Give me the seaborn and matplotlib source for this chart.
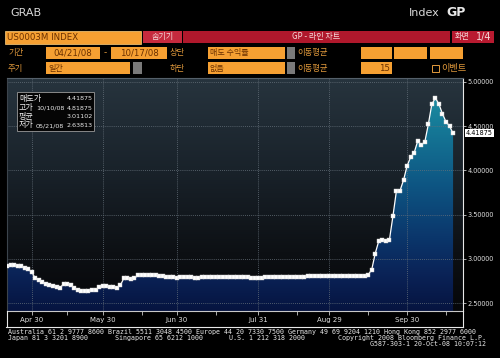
import numpy as np
import pandas as pd
import matplotlib
matplotlib.use("Agg")
import matplotlib.pyplot as plt
import seaborn as sns
from matplotlib.colors import LinearSegmentedColormap
from matplotlib.patches import Rectangle
from matplotlib.lines import Line2D

# ---------------- data ----------------
start_date = "2008-04-21"
end_date = "2008-10-17"
london_holidays = ["2008-05-05", "2008-05-26", "2008-08-25"]

libor_3m = [
    2.92, 2.925, 2.925, 2.92, 2.915,
    2.90, 2.88, 2.85, 2.78, 2.76,
    2.74, 2.72, 2.70, 2.69, 2.68,
    2.67, 2.72, 2.72, 2.70, 2.67,
    2.65, 2.63813, 2.64, 2.64, 2.645,
    2.65, 2.68, 2.69, 2.69, 2.68,
    2.68, 2.67, 2.70, 2.78, 2.78,
    2.77, 2.78,
    2.815, 2.82, 2.82, 2.815, 2.815, 2.82, 2.81, 2.81, 2.80, 2.79, 2.79, 2.785, 2.79,
    2.79, 2.79, 2.79, 2.785, 2.785, 2.79, 2.79, 2.79, 2.79, 2.795,
    2.79, 2.79, 2.79, 2.79, 2.795, 2.795, 2.795, 2.79, 2.79, 2.785,
    2.78, 2.78, 2.785,
    2.795, 2.80, 2.80, 2.80, 2.80, 2.80, 2.80, 2.80, 2.80, 2.80,
    2.80, 2.80, 2.805, 2.805, 2.805, 2.805, 2.805, 2.81, 2.81, 2.81,
    2.81, 2.81, 2.81, 2.81, 2.81, 2.81, 2.81, 2.81, 2.81,
    2.82,
    2.875, 3.06, 3.20, 3.21, 3.20, 3.21, 3.48, 3.77, 3.77, 3.89,
    4.05, 4.15, 4.20, 4.33, 4.29, 4.32, 4.52, 4.75, 4.81875, 4.75,
    4.64, 4.55, 4.50, 4.41875,
]

major_tick_dates = ["2008-04-30", "2008-05-30", "2008-06-30", "2008-07-31", "2008-08-29", "2008-09-30"]
major_tick_labels = ["Apr 30", "May 30", "Jun 30", "Jul 31", "Aug 29", "Sep 30"]
minor_tick_dates = ["2008-05-15", "2008-06-16", "2008-07-15", "2008-08-15", "2008-09-15", "2008-10-15"]
y_ticks = [2.5, 3.0, 3.5, 4.0, 4.5, 5.0]
last_value = "4.41875"

summary_labels = ["매도가", "고가", "평균", "저가"]
summary_dates = ["", "10/10/08", "", "05/21/08"]
summary_values = ["4.41875", "4.81875", "3.01102", "2.63813"]

footer_line1 = "Australia 61 2 9777 8600 Brazil 5511 3048 4500 Europe 44 20 7330 7500 Germany 49 69 9204 1210 Hong Kong 852 2977 6000"
footer_line2 = ["Japan 81 3 3201 8900", "Singapore 65 6212 1000", "U.S. 1 212 318 2000"]
footer_copyright = "Copyright 2008 Bloomberg Finance L.P."
footer_line3 = "G587-303-1 20-Oct-08 10:07:12"

# ---------------- build frame ----------------
dates = pd.bdate_range(start_date, end_date)
dates = dates[~dates.isin(pd.to_datetime(london_holidays))]
n = min(len(dates), len(libor_3m))
dates = dates[:n]
df = pd.DataFrame({"pos": np.arange(n), "rate": libor_3m[:n], "date": dates})

def date_pos(lst):
    idx = dates.get_indexer(pd.to_datetime(lst), method="nearest")
    return list(idx)

major_pos = date_pos(major_tick_dates)
minor_pos = date_pos(minor_tick_dates)

# ---------------- figure ----------------
W, H = 500, 358
fig = plt.figure(figsize=(W / 100, H / 100), dpi=100, facecolor="black")
KR = ["Noto Sans CJK KR", "DejaVu Sans"]

def fx(x):
    return x / W

def fy(y):
    return 1 - y / H

def box(x0, y0, x1, y1, fc, ec="none", lw=0.0, z=1):
    fig.add_artist(Rectangle((fx(x0), fy(y1)), (x1 - x0) / W, (y1 - y0) / H,
                             transform=fig.transFigure, facecolor=fc,
                             edgecolor=ec, linewidth=lw, zorder=z))

def ftext(x, y, s, **kw):
    kw.setdefault("va", "center")
    fig.text(fx(x), fy(y), s, **kw)

ORANGE = "#f6a032"
BOXTXT = "#6a3000"
LBL = "#e29a3c"
RED = "#b0182c"

# header
ftext(10, 12.5, "GRAB", color="#d8d8d8", fontsize=8, family="DejaVu Sans")
ftext(409, 12.5, "Index", color="#d8d8d8", fontsize=8, family="DejaVu Sans")
ftext(446, 12.5, "GP", color="#e8e8e8", fontsize=9, weight="bold", family="DejaVu Sans")

# row 1
box(5, 31, 141, 44, ORANGE, ec="#ffd080", lw=0.5)
ftext(7, 37.5, "US0003M INDEX", color=BOXTXT, fontsize=6.2, family="DejaVu Sans")
box(143, 31, 182, 43, "#c62a3e")
ftext(162.5, 37, "숨기기", color="#f4d8d8", fontsize=5.8, family=KR, ha="center")
box(183, 31, 450, 43, RED)
ftext(316, 37, "GP - 라인 차트", color="#f4d8d8", fontsize=5.8, family=KR, ha="center")
box(452, 31, 494, 43, "#b81a30")
ftext(455, 37, "화면", color="#f4d8d8", fontsize=5.8, family=KR)
ftext(476, 37, "1/4", color="#f4d8d8", fontsize=7, family="DejaVu Sans")

# row 2
ftext(8, 53, "기간", color=LBL, fontsize=6, family=KR)
box(46, 47, 100, 59, ORANGE)
ftext(73, 53, "04/21/08", color=BOXTXT, fontsize=6.2, family="DejaVu Sans", ha="center")
ftext(104, 53, "-", color=LBL, fontsize=6.5, family="DejaVu Sans")
box(111, 47, 167, 59, ORANGE)
ftext(139, 53, "10/17/08", color=BOXTXT, fontsize=6.2, family="DejaVu Sans", ha="center")
ftext(170, 53, "상단", color=LBL, fontsize=6, family=KR)
box(208, 47, 285, 59, ORANGE)
box(287, 47, 295, 59, "#7a7a7a")
ftext(210, 53, "매도 수익률", color=BOXTXT, fontsize=5.8, family=KR)
ftext(297, 53, "이동평균", color=LBL, fontsize=6, family=KR)
box(361, 47, 392, 59, ORANGE)
box(394, 47, 427, 59, ORANGE)
box(430, 47, 463, 59, ORANGE)

# row 3
ftext(8, 68.5, "주기", color=LBL, fontsize=6, family=KR)
box(46, 62, 130, 74, ORANGE)
box(133, 62, 142, 74, "#7a7a7a")
ftext(48, 68.5, "일간", color=BOXTXT, fontsize=5.8, family=KR)
ftext(170, 68.5, "하단", color=LBL, fontsize=6, family=KR)
box(208, 62, 285, 74, ORANGE)
box(287, 62, 295, 74, "#7a7a7a")
ftext(210, 68.5, "없음", color=BOXTXT, fontsize=5.8, family=KR)
ftext(297, 68.5, "이동평균", color=LBL, fontsize=6, family=KR)
box(361, 62, 392, 74, ORANGE)
ftext(390, 68.5, "15", color=BOXTXT, fontsize=6.2, family="DejaVu Sans", ha="right")
box(432, 65, 439, 72, "none", ec=LBL, lw=0.7)
ftext(441, 68.5, "이벤트", color=LBL, fontsize=6.6, family=KR)

# ---------------- plot axes ----------------
x0p, x1p, y0p, y1p = 7, 463, 78, 311
ax = fig.add_axes([fx(x0p), fy(y1p), (x1p - x0p) / W, (y1p - y0p) / H])
XMIN, XMAX = 0, 128.8
YMIN, YMAX = 2.41, 5.045

bg_cmap = LinearSegmentedColormap.from_list(
    "bg", [(0.0, "#060709"), (0.25, "#0d1014"), (0.6, "#19222a"), (1.0, "#27343e")])
fill_cmap = LinearSegmentedColormap.from_list(
    "fill", [(0.0, "#061440"), (0.15, "#0a2256"), (0.32, "#0b376c"),
             (0.55, "#0e5784"), (0.78, "#157896"), (1.0, "#1f98a8")])

grad = np.linspace(0, 1, 256).reshape(-1, 1)
ax.imshow(grad, extent=[XMIN, XMAX, YMIN, YMAX], origin="lower", aspect="auto",
          cmap=bg_cmap, zorder=0, interpolation="bicubic")

poly = ax.fill_between(df["pos"], df["rate"], YMIN, facecolor="none", edgecolor="none", zorder=1)
im = ax.imshow(grad, extent=[XMIN, XMAX, YMIN, YMAX], origin="lower", aspect="auto",
               cmap=fill_cmap, zorder=1, interpolation="bicubic")
im.set_clip_path(poly.get_paths()[0], transform=ax.transData)

sns.lineplot(data=df, x="pos", y="rate", ax=ax, color="white", linewidth=0.9,
             marker="s", markersize=2.4, markeredgecolor="#d0d0d0",
             markeredgewidth=0.3, zorder=4)

ax.set_xlim(XMIN, XMAX)
ax.set_ylim(YMIN, YMAX)
ax.set_xlabel("")
ax.set_ylabel("")

# grid
for yv in y_ticks:
    ax.axhline(yv, color="#66717b", lw=0.6, ls=(0, (1, 1.5)), zorder=2)
for xv in major_pos:
    ax.axvline(xv, color="#66717b", lw=0.6, ls=(0, (1, 1.5)), zorder=2)

ax.set_xticks(major_pos)
ax.set_xticklabels(major_tick_labels)
ax.set_xticks(minor_pos, minor=True)
ax.tick_params(axis="x", which="both", colors="#c8c8c8", labelcolor="#e0e0e0",
               labelsize=5, length=3, width=0.6, direction="out", pad=1.2)
for lab in ax.get_xticklabels():
    lab.set_family("DejaVu Sans")

ax.yaxis.tick_right()
ax.set_yticks(y_ticks)
ax.set_yticklabels([f"{v:.5f}" for v in y_ticks])
ax.tick_params(axis="y", which="both", colors="#c8c8c8", labelcolor="#e0e0e0",
               labelsize=4.7, length=2.5, width=0.6, direction="out", pad=0.5)

for side, col in [("left", "#3c444c"), ("top", "#55606a"), ("right", "#e8e8e8"), ("bottom", "#c8c8c8")]:
    ax.spines[side].set_color(col)
    ax.spines[side].set_linewidth(0.8)

ax.annotate(last_value, xy=(1.0, libor_3m[-1]), xycoords=("axes fraction", "data"),
            xytext=(2.2, 0), textcoords="offset points", ha="left", va="center",
            fontsize=4.7, color="black", family="DejaVu Sans",
            bbox=dict(boxstyle="square,pad=0.15", fc="white", ec="none"),
            annotation_clip=False)

# outer frame lines
fig.add_artist(Line2D([fx(6), fx(463)], [fy(327), fy(327)], transform=fig.transFigure, color="#e8e8e8", lw=0.8))
fig.add_artist(Line2D([fx(6.5), fx(6.5)], [fy(311), fy(327)], transform=fig.transFigure, color="#e8e8e8", lw=0.8))
fig.add_artist(Line2D([fx(463), fx(463)], [fy(311), fy(327)], transform=fig.transFigure, color="#e8e8e8", lw=0.8))

# summary box
box(17, 92, 94, 131, "#050505", ec="#9a9a9a", lw=0.6, z=5)
rows_y = [98.5, 107.5, 116.5, 125]
for yy, lab, dt, val in zip(rows_y, summary_labels, summary_dates, summary_values):
    ftext(19, yy, lab, color="#f0f0f0", fontsize=5.8, family=KR, zorder=6)
    if dt:
        ftext(36, yy + 0.5, dt, color="#e8e8e8", fontsize=4.6, family="DejaVu Sans", zorder=6)
    ftext(93, yy + 0.5, val, color="#e8e8e8", fontsize=4.6, family="DejaVu Sans", ha="right", zorder=6)

# footer
MONO = "DejaVu Sans Mono"
FS = 4.78
ftext(8, 332, footer_line1, color="#e8e8e8", fontsize=FS, family=MONO)
for xx, s in zip([8, 115, 229], footer_line2):
    ftext(xx, 338, s, color="#e8e8e8", fontsize=FS, family=MONO)
ftext(486, 338, footer_copyright, color="#e8e8e8", fontsize=FS, family=MONO, ha="right")
ftext(486, 344.5, footer_line3, color="#e8e8e8", fontsize=FS, family=MONO, ha="right")

fig.savefig("out.png", dpi=100, facecolor="black")
